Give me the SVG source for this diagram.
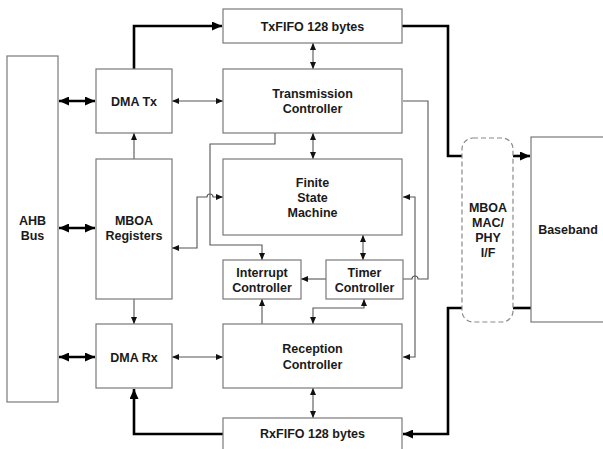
<svg xmlns="http://www.w3.org/2000/svg" width="603" height="449" viewBox="0 0 603 449">
<defs>
<style>
.box{fill:#fff;stroke:#7a7a7a;stroke-width:1.2}
.dash{fill:#fff;stroke:#8a8a8a;stroke-width:1.2;stroke-dasharray:5,3}
.t{font-family:"Liberation Sans",Arial,sans-serif;font-weight:bold;font-size:12.5px;fill:#1a1a1a;text-anchor:middle}
.thin{fill:none;stroke:#555;stroke-width:1.1}
.thick{fill:none;stroke:#000;stroke-width:2.6}
.ta{marker-end:url(#a)}
.tb{marker-start:url(#a);marker-end:url(#a)}
.Ta{marker-end:url(#A)}
.Tb{marker-start:url(#A);marker-end:url(#A)}
</style>
<marker id="a" markerUnits="userSpaceOnUse" markerWidth="8" markerHeight="6" refX="7" refY="3" orient="auto-start-reverse"><path d="M0,0 L7,3 L0,6 z" fill="#111"/></marker>
<marker id="A" markerUnits="userSpaceOnUse" markerWidth="11" markerHeight="9" refX="10" refY="4.5" orient="auto-start-reverse"><path d="M0,0 L10,4.5 L0,9 z" fill="#000"/></marker>
</defs>
<rect width="603" height="449" fill="#fff"/>

<g id="connectors">
<path class="thick Tb" d="M59,101 H95"/>
<path class="thick Tb" d="M59,228 H95"/>
<path class="thick Tb" d="M59,357 H95"/>
<path class="thick Ta" d="M134,69 V26 H222"/>
<path class="thick" d="M402,26 H448 V156 H462"/>
<path class="thick Ta" d="M513,156 H530"/>
<path class="thick" d="M531,308 H513"/>
<path class="thick Ta" d="M462,308 H448 V434 H403"/>
<path class="thick Ta" d="M223,434 H134 V389"/>
<path class="thin tb" d="M172,101 H223"/>
<path class="thin tb" d="M313,43 V69"/>
<path class="thin tb" d="M313,133 V159"/>
<path class="thin ta" d="M134,159 V133"/>
<path class="thin ta" d="M134,299 V324"/>
<path class="thin tb" d="M172,357 H223"/>
<path class="thin tb" d="M172,248 H197 V197 H207 a3,3 0 0 1 6,0 H223"/>
<path class="thin ta" d="M275,133 V144 H210 V245 H262 V260"/>
<path class="thin tb" d="M363,235 V260"/>
<path class="thin ta" d="M326,279 H301"/>
<path class="thin ta" d="M262,324 V299"/>
<path class="thin tb" d="M364,299 V308 H313 V324"/>
<path class="thin tb" d="M313,388 V418"/>
<path class="thin" d="M403,101 H428 V279 H418 a3,3 0 0 0 -6,0 H403"/>
<path class="thin tb" d="M403,197 H415 V357 H403"/>
</g>

<g id="ahb"><rect class="box" x="7" y="56" width="51" height="346"/><text class="t" x="32.5" y="225">AHB</text><text class="t" x="32.5" y="240">Bus</text></g>
<g id="dmatx"><rect class="box" x="96" y="69" width="76" height="64"/><text class="t" x="134" y="105.5">DMA Tx</text></g>
<g id="mboareg"><rect class="box" x="96" y="159" width="76" height="140"/><text class="t" x="134" y="225">MBOA</text><text class="t" x="134" y="240">Registers</text></g>
<g id="dmarx"><rect class="box" x="96" y="324" width="76" height="64"/><text class="t" x="134" y="361.5">DMA Rx</text></g>
<g id="txfifo"><rect class="box" x="223" y="9" width="179" height="34"/><text class="t" x="312.5" y="30.5">TxFIFO 128 bytes</text></g>
<g id="transctrl"><rect class="box" x="223" y="69" width="179" height="64"/><text class="t" x="312.5" y="97.5">Transmission</text><text class="t" x="312.5" y="112.5">Controller</text></g>
<g id="fsm"><rect class="box" x="223" y="159" width="179" height="76"/><text class="t" x="312.5" y="186.5">Finite</text><text class="t" x="312.5" y="201.5">State</text><text class="t" x="312.5" y="216.5">Machine</text></g>
<g id="intctrl"><rect class="box" x="223" y="260" width="78" height="39"/><text class="t" x="262" y="276.5">Interrupt</text><text class="t" x="262" y="291.5">Controller</text></g>
<g id="timer"><rect class="box" x="326" y="260" width="77" height="39"/><text class="t" x="364.5" y="276.5">Timer</text><text class="t" x="364.5" y="291.5">Controller</text></g>
<g id="recctrl"><rect class="box" x="223" y="324" width="179" height="64"/><text class="t" x="312.5" y="352.5">Reception</text><text class="t" x="312.5" y="368.5">Controller</text></g>
<g id="rxfifo"><rect class="box" x="223" y="418" width="179" height="36"/><text class="t" x="312.5" y="437.5">RxFIFO 128 bytes</text></g>
<g id="macphy"><rect class="dash" x="462" y="138" width="51" height="184" rx="11" ry="11"/><text class="t" x="488" y="211.5">MBOA</text><text class="t" x="488" y="226.5">MAC/</text><text class="t" x="488" y="241.5">PHY</text><text class="t" x="488" y="256.5">I/F</text></g>
<g id="baseband"><rect class="box" x="531" y="137" width="80" height="185"/><text class="t" x="568" y="233.5">Baseband</text></g>
</svg>
